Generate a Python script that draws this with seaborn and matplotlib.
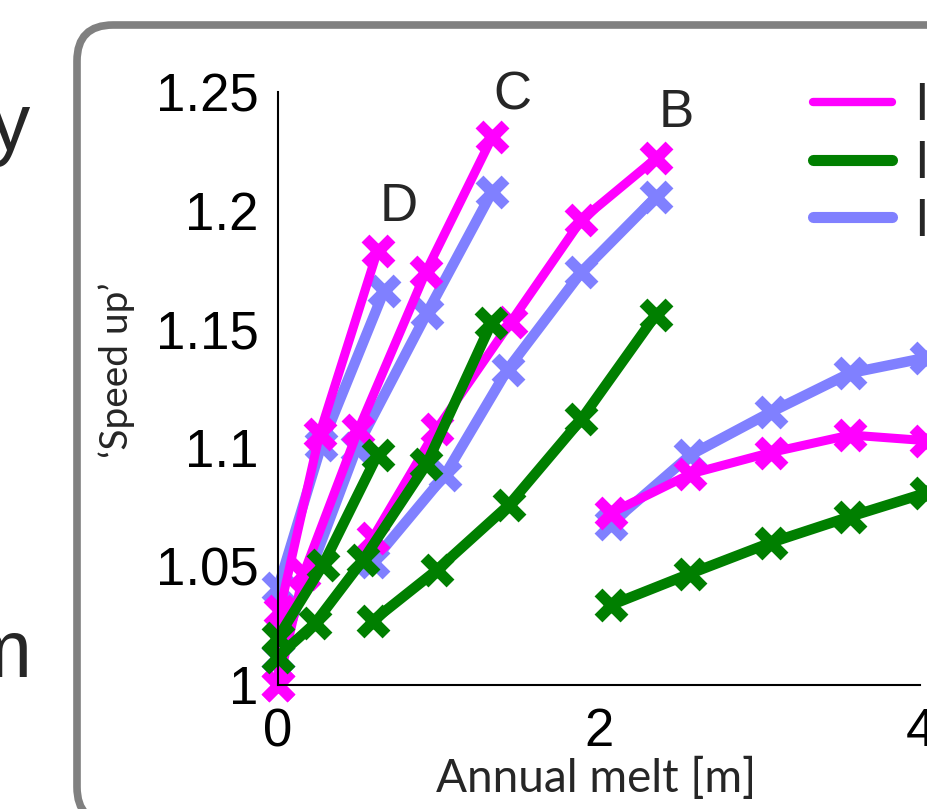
import matplotlib
matplotlib.use("Agg")
import matplotlib.pyplot as plt
import seaborn as sns
from matplotlib.lines import Line2D
from matplotlib.patches import FancyBboxPatch
from matplotlib.transforms import IdentityTransform

# Annual melt [m] vs 'speed up' for the four runs (D, C, B and the far right one)
# colours: magenta / green / light blue

melt_D_mag = [0.0, 0.01, 0.26, 0.62]
speed_D_mag = [1.0, 1.031, 1.106, 1.183]
melt_D_grn = [0.0, 0.28, 0.62]
speed_D_grn = [1.02, 1.0506, 1.097]
melt_D_blu = [0.0, 0.0, 0.27, 0.66]
speed_D_blu = [1.012, 1.041, 1.101, 1.166]

melt_C_mag = [0.0, 0.16, 0.5, 0.92, 1.335]
speed_C_mag = [1.0, 1.047, 1.1075, 1.174, 1.231]
melt_C_grn = [0.0, 0.23, 0.53, 0.925, 1.33]
speed_C_grn = [1.012, 1.026, 1.0527, 1.093, 1.1526]
melt_C_blu = [0.0, 0.49, 0.93, 1.335]
speed_C_blu = [1.012, 1.10, 1.157, 1.208]

melt_B_mag = [0.59, 0.99, 1.45, 1.89, 2.354]
speed_B_mag = [1.062, 1.108, 1.153, 1.196, 1.222]
melt_B_grn = [0.59, 0.99, 1.44, 1.89, 2.354]
speed_B_grn = [1.027, 1.0485, 1.076, 1.112, 1.156]
melt_B_blu = [0.59, 1.04, 1.43, 1.89, 2.354]
speed_B_blu = [1.052, 1.0885, 1.133, 1.174, 1.2057]

melt_A = [2.075, 2.57, 3.07, 3.565, 4.04]
speed_A_mag = [1.0725, 1.089, 1.098, 1.1054, 1.103]
speed_A_grn = [1.0337, 1.047, 1.06, 1.071, 1.081]
speed_A_blu = [1.068, 1.097, 1.115, 1.1315, 1.138]

run_labels = ["D", "C", "B"]
run_label_x = [0.754, 1.458, 2.48]
run_label_y = [1.2015, 1.2487, 1.241]

legend_labels = ["I", "I", "I"]

MAG = "#ff00ff"
GRN = "#007f00"
BLU = "#8080ff"

sns.set_style("white")
plt.rcParams['font.family'] = ['Liberation Sans', 'DejaVu Sans']

fig = plt.figure(figsize=(9.28, 8.09), dpi=100)

# rounded frame of the slide
box = FancyBboxPatch((77, -14), 950, 798, boxstyle="round,pad=0,rounding_size=36",
                     transform=IdentityTransform(), fill=False, edgecolor="#808080", lw=5.5)
fig.add_artist(box)

# bits of slide text cut off on the left
fig.text(30 / 928, 1 - 150 / 809, "y", ha="right", va="baseline", fontsize=58)
fig.text(32 / 928, 1 - 677 / 809, "m", ha="right", va="baseline", fontsize=58)

ax = fig.add_axes([278 / 928, 1 - 685 / 809, (920 - 278) / 928, (685 - 92) / 809])

def draw(x, y, col, lw):
    sns.lineplot(x=x, y=y, ax=ax, color=col, linewidth=lw, marker="x", markersize=19,
                 markeredgewidth=8, markeredgecolor=col, estimator=None, sort=False,
                 clip_on=False)

for x, y in [(melt_D_blu, speed_D_blu), (melt_C_blu, speed_C_blu),
             (melt_B_blu, speed_B_blu), (melt_A, speed_A_blu)]:
    draw(x, y, BLU, 7.5)
for x, y in [(melt_D_mag, speed_D_mag), (melt_C_mag, speed_C_mag),
             (melt_B_mag, speed_B_mag), (melt_A, speed_A_mag)]:
    draw(x, y, MAG, 6.5)
for x, y in [(melt_D_grn, speed_D_grn), (melt_C_grn, speed_C_grn),
             (melt_B_grn, speed_B_grn), (melt_A, speed_A_grn)]:
    draw(x, y, GRN, 7.5)

for lab, lx, ly in zip(run_labels, run_label_x, run_label_y):
    ax.text(lx, ly, lab, ha="center", va="center", fontsize=38, clip_on=False)

ax.set_xlim(0, 4)
ax.set_ylim(1, 1.25)
ax.set_xticks([0, 2, 4])
ax.set_xticklabels(["0", "2", "4"])
ax.set_yticks([1, 1.05, 1.1, 1.15, 1.2, 1.25])
ax.set_yticklabels(["1", "1.05", "1.1", "1.15", "1.2", "1.25"])
ax.tick_params(axis="both", direction="in", length=5, width=1.5, labelsize=38, colors="black")
ax.tick_params(axis="y", pad=14)
ax.tick_params(axis="x", pad=16)
for s in ["top", "right"]:
    ax.spines[s].set_visible(False)
for s in ["left", "bottom"]:
    ax.spines[s].set_color("black")
    ax.spines[s].set_linewidth(1.5)

fig.text(596 / 928, 1 - 778 / 809, "Annual melt [m]", ha="center", va="center",
         fontsize=33, family=["Lato", "DejaVu Sans"])
fig.text(117 / 928, 1 - 370 / 809, "\u2018Speed up\u2019", ha="center", va="center",
         rotation=90, fontsize=28, family=["Lato", "DejaVu Sans"])

handles = [Line2D([], [], color=MAG, lw=6), Line2D([], [], color=GRN, lw=8),
           Line2D([], [], color=BLU, lw=8)]
fig.legend(handles, legend_labels, loc="center left", bbox_to_anchor=(813, 809 - 164),
           bbox_transform=IdentityTransform(), frameon=False, fontsize=38,
           handlelength=1.5, handletextpad=0.42, labelspacing=0.15, borderpad=0,
           borderaxespad=0)

plt.savefig("out.png", dpi=100)
